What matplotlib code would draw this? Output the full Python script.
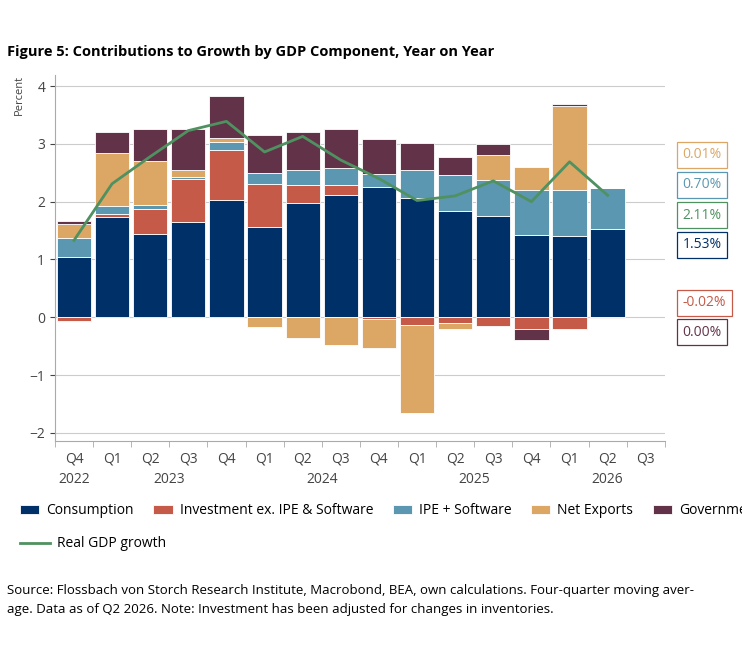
import matplotlib.pyplot as plt
import numpy as np

plt.rcParams['font.family'] = ['Open Sans', 'DejaVu Sans']

quarters = ['Q4', 'Q1', 'Q2', 'Q3', 'Q4', 'Q1', 'Q2', 'Q3', 'Q4', 'Q1', 'Q2', 'Q3', 'Q4', 'Q1', 'Q2', 'Q3']
years = ['2022', '2023', '2024', '2025', '2026']
year_pos = [0, 2.5, 6.5, 10.5, 14]

consumption = [1.05, 1.74, 1.44, 1.65, 2.03, 1.57, 1.97, 2.11, 2.25, 2.07, 1.84, 1.75, 1.42, 1.41, 1.53]
investment = [-0.06, 0.05, 0.43, 0.74, 0.86, 0.73, 0.32, 0.18, -0.03, -0.13, -0.10, -0.15, -0.20, -0.21, -0.02]
ipe = [0.32, 0.13, 0.08, 0.04, 0.14, 0.19, 0.26, 0.30, 0.23, 0.48, 0.62, 0.62, 0.79, 0.79, 0.70]
net_exports = [0.25, 0.93, 0.76, 0.12, 0.08, -0.17, -0.36, -0.48, -0.50, -1.53, -0.10, 0.44, 0.39, 1.46, 0.01]
government = [0.04, 0.35, 0.55, 0.70, 0.72, 0.66, 0.65, 0.67, 0.60, 0.47, 0.32, 0.18, -0.19, 0.03, 0.00]
gdp = [1.33, 2.31, 2.78, 3.23, 3.39, 2.86, 3.13, 2.72, 2.40, 2.02, 2.10, 2.36, 2.00, 2.69, 2.11]

names = ['Consumption', 'Investment ex. IPE & Software', 'IPE + Software', 'Net Exports', 'Government']
colors = ['#003068', '#c45a47', '#5b97b0', '#dca764', '#623248']
series = [consumption, investment, ipe, net_exports, government]

fig = plt.figure(figsize=(7.42, 6.59), dpi=100)
ax = fig.add_axes([0.074, 0.331, 0.822, 0.555])

x = np.arange(len(consumption))
pos = np.zeros(len(x))
neg = np.zeros(len(x))
bars = []
for vals, c, n in zip(series, colors, names):
    v = np.array(vals)
    bottom = np.where(v >= 0, pos, neg)
    bars.append(ax.bar(x, v, 0.9, bottom=bottom, color=c, edgecolor='white', linewidth=0.6, zorder=2))
    pos += np.where(v >= 0, v, 0)
    neg += np.where(v < 0, v, 0)

line, = ax.plot(x, gdp, color='#4f9160', linewidth=2, zorder=3)

ax.set_xlim(-0.5, 15.5)
ax.set_ylim(-2.14, 4.19)
ax.set_yticks(range(-2, 5))
ax.grid(axis='y', color='#cccccc', linewidth=0.8, zorder=0)
for s in ['top', 'right']:
    ax.spines[s].set_visible(False)
for s in ['left', 'bottom']:
    ax.spines[s].set_color('#aaaaaa')
ax.tick_params(colors='#444444', labelsize=10)
ax.set_ylabel('Percent', fontsize=8, color='#444444', loc='top')
ax.yaxis.set_label_coords(-0.05, 1.0)

ax.set_xticks(np.arange(-0.5, 16, 1), minor=True)
ax.set_xticks(x.tolist() + [15])
ax.set_xticklabels(quarters)
ax.tick_params(axis='x', which='major', length=0, pad=8)
ax.tick_params(axis='x', which='minor', length=4, color='#aaaaaa')
for yp, yr in zip(year_pos, years):
    ax.text(yp, -0.085, yr, transform=ax.get_xaxis_transform(), ha='center', va='top', fontsize=10, color='#444444')

# callouts on the right
labels = ['0.01%', '0.70%', '2.11%', '1.53%', '-0.02%', '0.00%']
label_colors = ['#dca764', '#5b97b0', '#4f9160', '#003068', '#c45a47', '#623248']
label_px = [155, 185, 215, 245, 303, 332]
for t, c, py in zip(labels, label_colors, label_px):
    fig.text(0.92, 1 - py / 659, t, fontsize=10, color=c, va='center', ha='left',
             bbox=dict(boxstyle='square,pad=0.4', fc='white', ec=c, lw=0.9))

fig.text(0.01, 0.915, 'Figure 5: Contributions to Growth by GDP Component, Year on Year', fontsize=10.5, weight='bold')

leg1 = fig.legend(bars, names, loc='upper left', bbox_to_anchor=(0.01, 0.255),
                  ncol=5, frameon=False, fontsize=10, handlelength=1.4, columnspacing=1.4, handletextpad=0.5)
fig.legend([line], ['Real GDP growth'], loc='upper left', bbox_to_anchor=(0.01, 0.205),
           frameon=False, fontsize=10, handlelength=2.2, handletextpad=0.5)

fig.text(0.01, 0.09, 'Source: Flossbach von Storch Research Institute, Macrobond, BEA, own calculations. Four-quarter moving aver-\n'
         'age. Data as of Q2 2026. Note: Investment has been adjusted for changes in inventories.',
         fontsize=9.5, va='center', linespacing=1.6)

fig.savefig('out.png', dpi=100)
